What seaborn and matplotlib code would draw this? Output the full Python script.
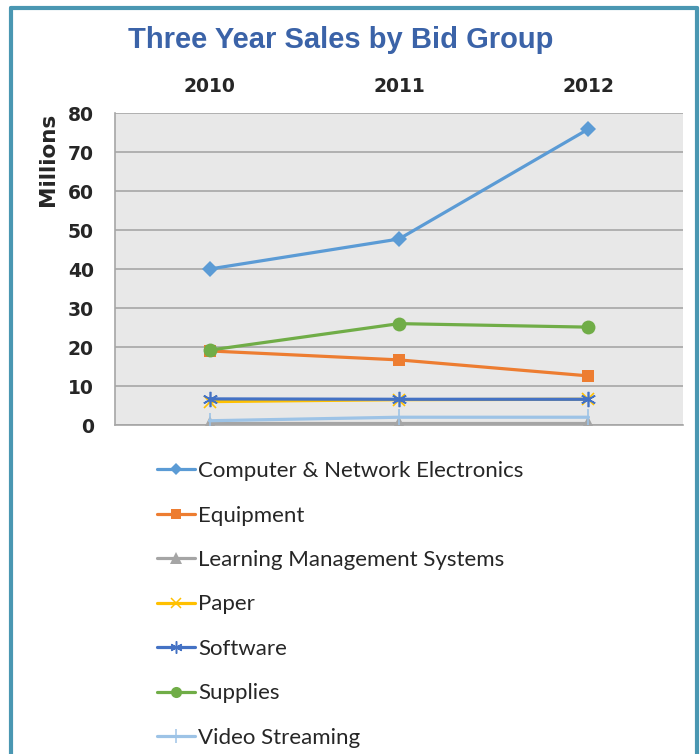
import pandas as pd
import seaborn as sns
import matplotlib.pyplot as plt
from matplotlib.lines import Line2D

# dados do gráfico
anos = ["2010", "2011", "2012"]
computer = [40.0, 47.7, 75.9]
equipment = [19.0, 16.7, 12.6]
lms = [0.4, 0.4, 0.4]
paper = [6.0, 6.5, 6.6]
software = [6.7, 6.6, 6.6]
supplies = [19.2, 26.0, 25.1]
video = [1.1, 2.0, 2.0]

grupos = ["Computer & Network Electronics", "Equipment", "Learning Management Systems",
          "Paper", "Software", "Supplies", "Video Streaming"]
valores = [computer, equipment, lms, paper, software, supplies, video]
cores = ["#5b9bd5", "#ed7d31", "#a5a5a5", "#ffc000", "#4472c4", "#70ad47", "#9dc3e6"]
marcadores = ["D", "s", "^", "x", (6, 2, 0), "o", "|"]
tamanhos = [8, 9, 10, 9, 11, 10, 12]

linhas = []
for g, v in zip(grupos, valores):
    for a, y in zip(anos, v):
        linhas.append({"Ano": a, "Grupo": g, "Valor": y})
dados = pd.DataFrame(linhas)
dados["x"] = dados["Ano"].map({a: i for i, a in enumerate(anos)})

sns.set_style("white")
plt.rcParams["font.family"] = ["Liberation Sans", "DejaVu Sans"]


def borda(m):
    # marcadores de traço precisam de borda
    return 1.2 if m in ["x", "|"] or isinstance(m, tuple) else 0


fig = plt.figure(figsize=(7, 7.54), dpi=100)
ax = fig.add_axes([0.164, 0.4363, 0.812, 0.4138])
ax.set_facecolor("#e8e8e8")

for g, c, m, s in zip(grupos, cores, marcadores, tamanhos):
    sub = dados[dados["Grupo"] == g]
    sns.lineplot(data=sub, x="x", y="Valor", ax=ax, color=c, linewidth=2.3,
                 marker=m, markersize=s, markeredgecolor=c, markeredgewidth=borda(m),
                 label=g, legend=False, zorder=3)

ax.set_xlim(-0.5, 2.5)
ax.set_ylim(0, 80)
ax.set_xticks(range(len(anos)))
ax.set_xticklabels(anos)
ax.set_yticks(range(0, 81, 10))
ax.xaxis.tick_top()
ax.tick_params(axis="x", length=0, pad=12)
ax.tick_params(axis="y", length=0, pad=15)
for t in ax.get_xticklabels() + ax.get_yticklabels():
    t.set_fontfamily("DejaVu Sans")
    t.set_fontweight("bold")
    t.set_fontsize(13.5)
ax.set_xlabel("")
ax.set_ylabel("Millions", fontsize=15.5, fontweight="bold", family="DejaVu Sans",
              loc="top", labelpad=7)
ax.yaxis.grid(True, color="#a6a6a6", linewidth=1.2)
for lado in ["top", "right"]:
    ax.spines[lado].set_visible(False)
for lado in ["left", "bottom"]:
    ax.spines[lado].set_color("#a6a6a6")
    ax.spines[lado].set_linewidth(1.2)

fig.text(0.486, 0.947, "Three Year Sales by Bid Group", ha="center", va="center",
         fontsize=21, fontweight="bold", color="#3b63a8")

# legenda
handles = [Line2D([], [], color=c, linewidth=2.3, marker=m, markersize=s * 0.8,
                  markeredgecolor=c, markeredgewidth=borda(m) * 0.9)
           for c, m, s in zip(cores, marcadores, tamanhos)]
fig.legend(handles, grupos, loc="upper left", bbox_to_anchor=(0.196, 0.415), frameon=False,
           prop={"family": "Lato", "size": 16}, labelspacing=1.1, handlelength=1.7,
           handletextpad=0.15)

# moldura
for xs, ys in [([0.0157, 0.0157], [0, 0.99]), ([0.0157, 0.996], [0.99, 0.99]),
               ([0.996, 0.996], [0, 0.99])]:
    fig.add_artist(Line2D(xs, ys, color="#4a97b2", linewidth=3, transform=fig.transFigure))

fig.savefig("out.png", dpi=100)
